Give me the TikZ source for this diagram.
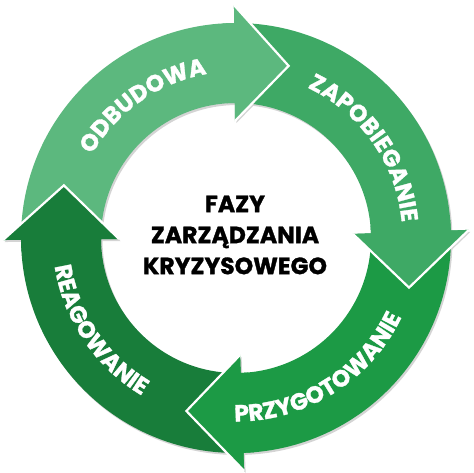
\documentclass[tikz,border=0pt]{standalone}
\usepackage{fontspec}
\setmainfont{Poppins}[BoldFeatures={FakeBold=1.3}]
\usetikzlibrary{decorations.text}
\definecolor{cOdb}{HTML}{5CB87E}
\definecolor{cZap}{HTML}{3EA965}
\definecolor{cPrz}{HTML}{1C9A45}
\definecolor{cRea}{HTML}{187D3A}
\definecolor{cShadow}{HTML}{D4D4D4}
\newcommand\RIn{135}
\newcommand\ROut{215}
\newcommand\HIn{117}
\newcommand\HOut{233}
\newcommand\RTip{180}
% #1 tail angle, #2 base angle, #3 tip angle, #4 options
\newcommand\arrowfill[4]{%
  \fill[#4] (#1:\ROut pt) arc[start angle=#1, end angle=#2, radius=\ROut pt]
    -- (#2:\HOut pt) -- (#3:\RTip pt) -- (#2:\HIn pt) -- (#2:\RIn pt)
    arc[start angle=#2, end angle=#1, radius=\RIn pt] -- cycle;}
\newcommand\headedge[2]{%
  \draw[headline] (#1:\HOut pt) -- (#2:\RTip pt) -- (#1:\HIn pt);}
\newcommand\lblfont{\bfseries\fontsize{23.5}{23.5}\selectfont}
\tikzset{
  headline/.style={white, line width=2.2pt, line join=miter},
  ringlabel/.style={decorate, decoration={text along path, text align=center,
      text color=white, text={|\lblfont|#1}}},
  centertext/.style={align=center, text=black, font=\bfseries\fontsize{23.5}{31}\selectfont}
}
\begin{document}
\begin{tikzpicture}[x=1pt,y=1pt]
\useasboundingbox (-236,-235) rectangle (238,238);
% shadows
\begin{scope}[shift={(1.5,-2)}]
  \arrowfill{178.5}{90.5}{73}{cShadow}
  \arrowfill{88.5}{2}{-16}{cShadow}
  \arrowfill{0}{-88}{-106}{cShadow}
  \arrowfill{270}{180.5}{163}{cShadow}
\end{scope}
% bodies
\arrowfill{178.5}{90.5}{73}{cOdb}
\arrowfill{88.5}{2}{-16}{cZap}
\arrowfill{0}{-88}{-106}{cPrz}
\arrowfill{270}{180.5}{163}{cRea}
% heads on top
\arrowfill{93.5}{90.5}{73}{cOdb}
\arrowfill{5}{2}{-16}{cZap}
\arrowfill{-85}{-88}{-106}{cPrz}
\arrowfill{183.5}{180.5}{163}{cRea}
\headedge{90.5}{73}
\headedge{2}{-16}
\headedge{-88}{-106}
\headedge{180.5}{163}
% labels
\path[ringlabel=ODBUDOWA] (161:166.5pt) arc[start angle=161, end angle=89, radius=166.5pt];
\path[ringlabel=ZAPOBIEGANIE] (71:166.5pt) arc[start angle=71, end angle=-1, radius=166.5pt];
\path[ringlabel=PRZYGOTOWANIE] (-98:183.5pt) arc[start angle=-98, end angle=-18, radius=183.5pt];
\path[ringlabel=REAGOWANIE] (179:183.5pt) arc[start angle=179, end angle=249, radius=183.5pt];
\node[centertext] (title) at (-1,3) {FAZY\\ZARZĄDZANIA\\KRYZYSOWEGO};
\end{tikzpicture}
\end{document}
